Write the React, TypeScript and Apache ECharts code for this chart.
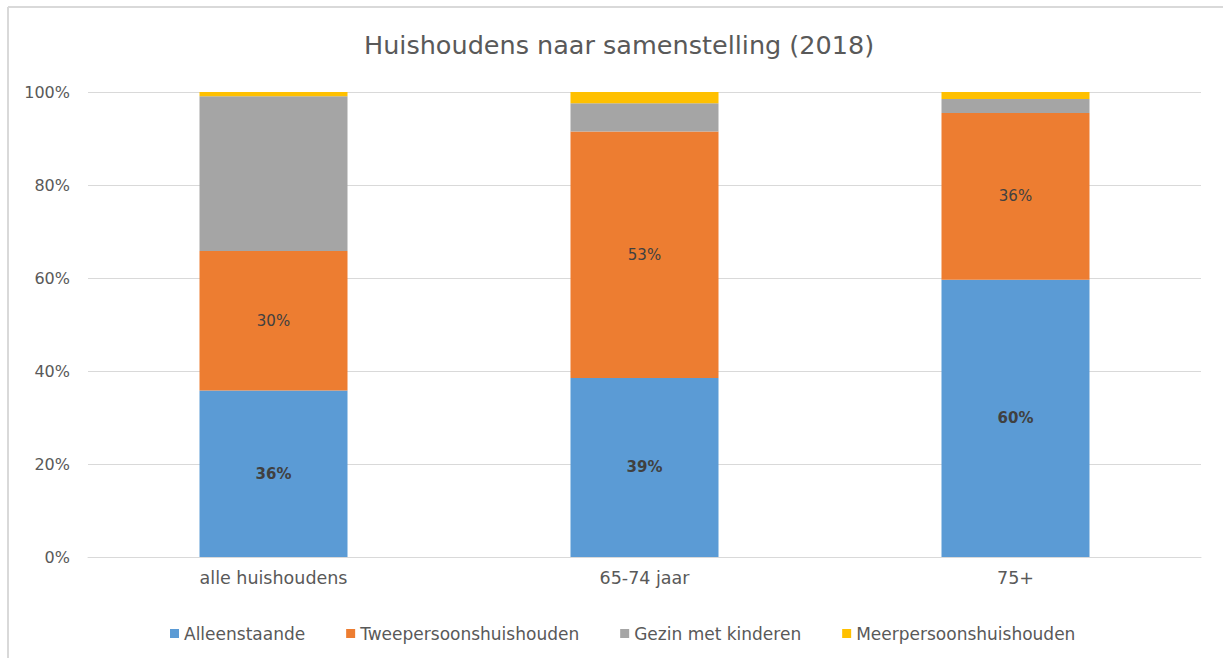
import React, { useEffect, useRef } from "react";
import * as echarts from "echarts";

const categories = ["alle huishoudens", "65-74 jaar", "75+"];
const alleenstaande = [35.8, 38.5, 59.6];
const tweepersoons = [30.0, 53.0, 35.9];
const gezin = [33.3, 6.1, 3.0];
const meerpersoons = [0.9, 2.4, 1.5];
const seriesNames = ["Alleenstaande", "Tweepersoonshuishouden", "Gezin met kinderen", "Meerpersoonshuishouden"];
const yTicks = [0, 20, 40, 60, 80, 100];

const FONT = "DejaVu Sans";

export default function App() {
  const ref = useRef<HTMLDivElement>(null);
  useEffect(() => {
    if (!ref.current) return;
    const chart = echarts.init(ref.current, null, { renderer: "svg" });
    const pct = (p: any) => Math.round(p.value) + "%";
    chart.setOption({
      animation: false,
      backgroundColor: "#ffffff",
      textStyle: { fontFamily: FONT },
      title: {
        text: "Huishoudens naar samenstelling (2018)",
        left: 359,
        top: 27,
        textStyle: { fontFamily: FONT, fontSize: 25.5, fontWeight: "normal", color: "#595959" },
      },
      legend: {
        data: seriesNames,
        left: 165,
        top: 620,
        itemWidth: 9,
        itemHeight: 9,
        itemGap: 41,
        icon: "rect",
        textStyle: { fontFamily: FONT, fontSize: 17, color: "#595959" },
      },
      grid: { left: 88, right: 22, top: 92, bottom: 101, containLabel: false },
      xAxis: {
        type: "category",
        data: categories,
        axisLine: { show: true, lineStyle: { color: "#d9d9d9", width: 1 } },
        axisTick: { show: false },
        axisLabel: { fontFamily: FONT, fontSize: 17.5, color: "#595959", margin: 12 },
      },
      yAxis: {
        type: "value",
        min: yTicks[0],
        max: yTicks[yTicks.length - 1],
        interval: 20,
        axisLine: { show: false },
        axisTick: { show: false },
        splitLine: { lineStyle: { color: "#d9d9d9", width: 1 } },
        axisLabel: { formatter: "{value}%", fontFamily: FONT, fontSize: 16, color: "#595959", margin: 18 },
      },
      graphic: [
        { type: "line", shape: { x1: 8, y1: 7, x2: 1223, y2: 7 }, style: { stroke: "#d9d9d9", lineWidth: 2 }, silent: true },
        { type: "line", shape: { x1: 8, y1: 7, x2: 8, y2: 658 }, style: { stroke: "#d9d9d9", lineWidth: 2 }, silent: true },
      ],
      series: [
        {
          name: seriesNames[0],
          type: "bar",
          stack: "total",
          barWidth: 148,
          data: alleenstaande,
          itemStyle: { color: "#5B9BD5" },
          label: { show: true, position: "inside", formatter: pct, fontFamily: FONT, fontSize: 15, fontWeight: "bold", color: "#404040" },
        },
        {
          name: seriesNames[1],
          type: "bar",
          stack: "total",
          barWidth: 148,
          data: tweepersoons,
          itemStyle: { color: "#ED7D31" },
          label: { show: true, position: "inside", formatter: pct, fontFamily: FONT, fontSize: 15, color: "#404040" },
        },
        {
          name: seriesNames[2],
          type: "bar",
          stack: "total",
          barWidth: 148,
          data: gezin,
          itemStyle: { color: "#A5A5A5" },
        },
        {
          name: seriesNames[3],
          type: "bar",
          stack: "total",
          barWidth: 148,
          data: meerpersoons,
          itemStyle: { color: "#FFC000" },
        },
      ],
    });
    return () => chart.dispose();
  }, []);
  return (
    <div
      ref={ref}
      style={{ position: "fixed", left: 0, top: 0, width: 1223, height: 658, background: "#fff" }}
    />
  );
}
